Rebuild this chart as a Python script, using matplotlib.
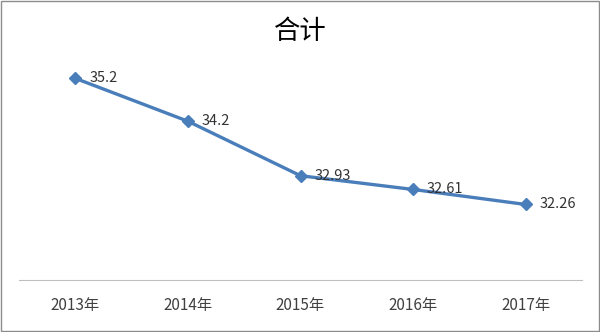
import matplotlib.pyplot as plt

plt.rcParams['font.family'] = ['Noto Sans CJK SC', 'DejaVu Sans']

years = ['2013年', '2014年', '2015年', '2016年', '2017年']
values = [35.2, 34.2, 32.93, 32.61, 32.26]
labels = ['35.2', '34.2', '32.93', '32.61', '32.26']

fig = plt.figure(figsize=(6, 3.32), dpi=100)
ax = fig.add_axes([19 / 600, 1 - 280 / 332, 563 / 600, 236 / 332])

x = list(range(len(years)))
ax.plot(x, values, color='#4a7ebb', linewidth=2.4, marker='D', markersize=6)

for xi, v, t in zip(x, values, labels):
    ax.annotate(t, (xi, v), xytext=(10, 0), textcoords='offset points',
                va='center', ha='left', fontsize=10.5, color='#333333')

ax.set_xlim(-0.5, 4.5)
ax.set_ylim(30.5, 36)
ax.set_xticks(x)
ax.set_xticklabels(years, fontsize=11, color='#404040')
ax.tick_params(axis='x', length=0, pad=12)
ax.set_yticks([])
for s in ['top', 'right', 'left']:
    ax.spines[s].set_visible(False)
ax.spines['bottom'].set_color('#bfbfbf')

fig.text(0.5, 0.905, '合计', ha='center', va='center', fontsize=19, color='black')

# outer border
fig.patches.append(plt.Rectangle((0.001, 0.002), 0.997, 0.995, transform=fig.transFigure,
                                 fill=False, edgecolor='#8c8c8c', linewidth=1))

fig.savefig('out.png', dpi=100)
